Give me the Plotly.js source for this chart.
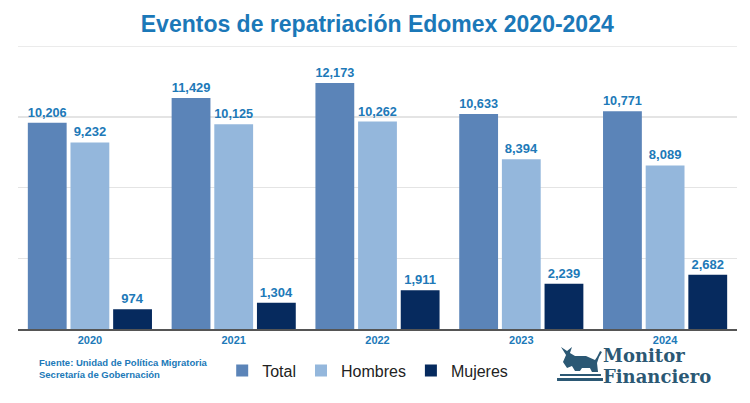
<!DOCTYPE html>
<html><head><meta charset="utf-8">
<script src="https://cdn.plot.ly/plotly-3.0.1.min.js"></script>
<style>html,body{margin:0;padding:0;background:#fff}#chart{width:750px;height:403px}</style>
</head><body><div id="chart"></div>
<script>
const years = ['2020','2021','2022','2023','2024'];
const total = [10206, 11429, 12173, 10633, 10771];
const hombres = [9232, 10125, 10262, 8394, 8089];
const mujeres = [974, 1304, 1911, 2239, 2682];
const seriesNames = ['Total','Hombres','Mujeres'];
const colors = ['#5b84b8','#94b7dc','#062a5e'];
const labelFont = {family:'Liberation Sans, Arial, sans-serif', size:13, color:'#2079b8', weight:'bold'};
const fmt = v => v.toLocaleString('en-US');
const data = [total, hombres, mujeres].map((vals,i)=>({
  type:'bar', x:years, y:vals, name:seriesNames[i],
  marker:{color:colors[i]},
  text: vals.map(fmt), textposition:'outside', cliponaxis:false,
  textfont: labelFont, hoverinfo:'none'
}));
// logo icon drawn in pixel space, converted to paper coords
const L=18, W=719, B=329, H=283;
const px = x => ((x-L)/W).toFixed(4), py = y => ((B-y)/H).toFixed(4);
function pathFrom(pts){ return 'M ' + pts.map(p=>px(p[0])+','+py(p[1])).join(' L ') + ' Z'; }
const bull = [[561,347],[566,355],[563,362],[567,368],[572,366],[575,371],[580,371],[582,368],[590,368],[592,372],[598,372],[597,363],[599,357],[602,352],[600,351],[597,357],[595,360],[586,356],[575,356],[570,353],[572,347],[567,351]];
const logoColor = '#2b5874';
const layout = {
  width:750, height:403,
  margin:{l:18, r:13, t:46, b:74, autoexpand:false},
  paper_bgcolor:'#fff', plot_bgcolor:'#fff',
  barmode:'group', bargap:0.11, bargroupgap:0.09,
  title:{text:'<b>Eventos de repatriación Edomex 2020-2024</b>', x:0.503, xanchor:'center', y:0.94, yanchor:'middle',
    font:{family:'Liberation Sans, Arial, sans-serif', size:23, color:'#1b78b8'}},
  xaxis:{showline:true, linecolor:'#555', linewidth:1.5, ticks:'', showgrid:false,
    tickfont:{family:'Liberation Sans, Arial, sans-serif', size:11, color:'#2079b8', weight:'bold'}},
  yaxis:{range:[0,14000], dtick:3500, showticklabels:false, showgrid:true, gridcolor:'#e4e4e4', gridwidth:1.5, zeroline:false, fixedrange:true},
  showlegend:true,
  legend:{orientation:'h', x:0.284, xanchor:'left', y:-0.087, yanchor:'top',
    font:{family:'Liberation Sans, Arial, sans-serif', size:16, color:'#222'}, itemwidth:30, traceorder:'normal'},
  shapes:[
    {type:'line', xref:'paper', yref:'y', x0:0, x1:1, y0:14000, y1:14000, line:{color:'#e4e4e4', width:1.5}, layer:'below'},
    {type:'path', xref:'paper', yref:'paper', path:pathFrom(bull), fillcolor:logoColor, line:{width:0}},
    {type:'rect', xref:'paper', yref:'paper', x0:px(560), x1:px(601), y0:py(376), y1:py(374), fillcolor:logoColor, line:{width:0}},
    {type:'rect', xref:'paper', yref:'paper', x0:px(557), x1:px(603), y0:py(381), y1:py(378), fillcolor:logoColor, line:{width:0}}
  ],
  annotations:[
    {text:'<b>Fuente: Unidad de Política Migratoria<br>Secretaría de Gobernación</b>', xref:'paper', yref:'paper',
     x:0.026, xanchor:'left', y:-0.093, yanchor:'top', align:'left', showarrow:false,
     font:{family:'Liberation Sans, Arial, sans-serif', size:9.5, color:'#2079b8'}},
    {text:'<b>Monitor</b>', xref:'paper', yref:'paper', x:px(602), xanchor:'left', y:py(355), yanchor:'middle',
     showarrow:false, borderpad:0, font:{family:'DejaVu Serif, Liberation Serif, serif', size:18, color:logoColor}},
    {text:'<b>Financiero</b>', xref:'paper', yref:'paper', x:px(602), xanchor:'left', y:py(376), yanchor:'middle',
     showarrow:false, borderpad:0, font:{family:'DejaVu Serif, Liberation Serif, serif', size:18, color:logoColor}}
  ]
};
Plotly.newPlot('chart', data, layout, {displayModeBar:false, staticPlot:true});
</script></body></html>
